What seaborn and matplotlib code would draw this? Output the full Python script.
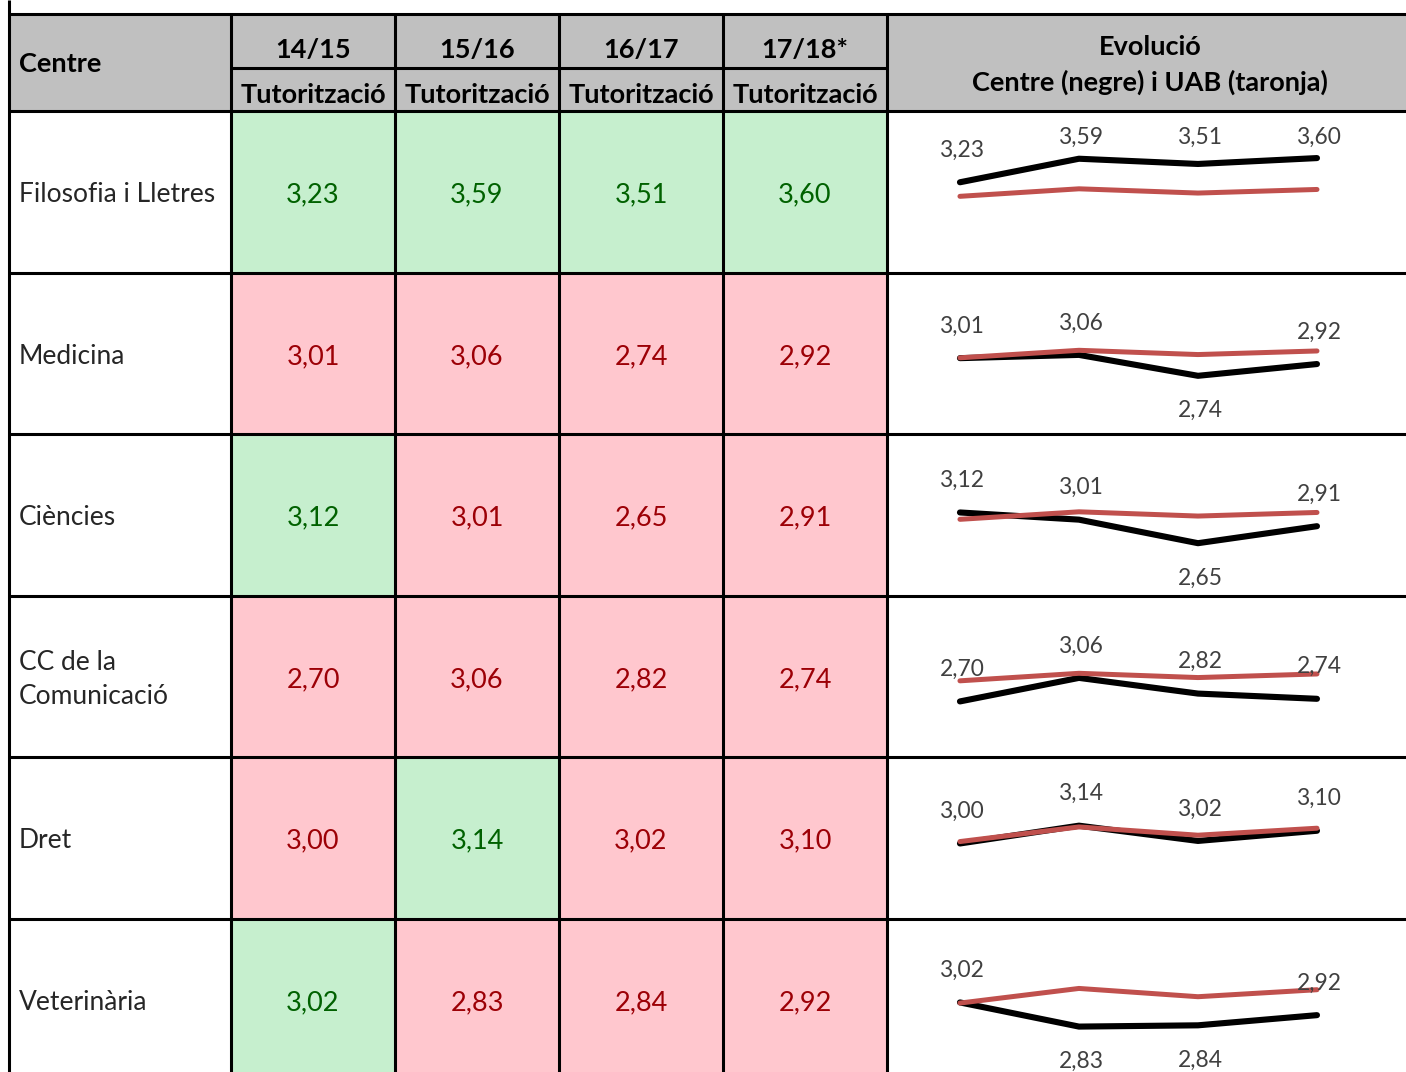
import numpy as np
import pandas as pd
import matplotlib
matplotlib.use("Agg")
import matplotlib.pyplot as plt
import seaborn as sns
from matplotlib.colors import ListedColormap
from matplotlib.patches import Rectangle

# Data
centres = ["Filosofia i Lletres", "Medicina", "Ciències", "CC de la\nComunicació", "Dret", "Veterinària"]
years = ["14/15", "15/16", "16/17", "17/18*"]
filosofia = [3.23, 3.59, 3.51, 3.60]
medicina = [3.01, 3.06, 2.74, 2.92]
ciencies = [3.12, 3.01, 2.65, 2.91]
comunicacio = [2.70, 3.06, 2.82, 2.74]
dret = [3.00, 3.14, 3.02, 3.10]
veterinaria = [3.02, 2.83, 2.84, 2.92]
uab = [3.015, 3.13, 3.065, 3.12]

values = np.array([filosofia, medicina, ciencies, comunicacio, dret, veterinaria])
above = (values > np.array(uab)).astype(int)

# where the sparkline label goes (1 above, -1 below)
label_side = [[1, 1, 1, 1], [1, 1, -1, 1], [1, 1, -1, 1], [1, 1, 1, 1], [1, 1, 1, 1], [1, -1, -1, 1]]
spark_ylim = [(1.85, 4.32)] * 4 + [(2.41, 3.68)] * 2

def fmt(v):
    return f"{v:.2f}".replace(".", ",")

sns.set_style("white")
plt.rcParams["font.family"] = ["Lato", "DejaVu Sans"]

W, H = 1406, 1072
fig = plt.figure(figsize=(W / 100, H / 100), dpi=100)

def px_axes(x0, y0, x1, y1):
    return fig.add_axes([x0 / W, 1 - y1 / H, (x1 - x0) / W, (y1 - y0) / H])

col_x = [9, 231, 395, 559, 723, 887, 1413]
row_h = 161.5
row_y = [111 + i * row_h for i in range(7)]

# background: header fill and texts
bg = px_axes(0, 0, W, H)
bg.set_xlim(0, W)
bg.set_ylim(H, 0)
bg.axis("off")
bg.add_patch(Rectangle((9, 14), W, 97, color="#C0C0C0", zorder=0))

hdr = dict(fontsize=19.5, fontweight="bold", color="black", va="center")
bg.text(19, 64, "Centre", ha="left", **hdr)
for i, y in enumerate(years):
    cx = (col_x[i + 1] + col_x[i + 2]) / 2
    bg.text(cx, 50, y, ha="center", **hdr)
    bg.text(cx, 95, "Tutorització", ha="center", **hdr)
bg.text(1150, 47, "Evolució", ha="center", **hdr)
bg.text(1150, 82, "Centre (negre) i UAB (taronja)", ha="center", **hdr)

for i, name in enumerate(centres):
    cy = (row_y[i] + row_y[i + 1]) / 2 + 3
    bg.text(19, cy, name, ha="left", va="center", fontsize=19, linespacing=1.45)

# coloured value cells
hm = px_axes(col_x[1], row_y[0], col_x[5], row_y[6])
sns.heatmap(above, ax=hm, cmap=ListedColormap(["#FFC7CE", "#C6EFCE"]), vmin=0, vmax=1,
            cbar=False, linewidths=0, xticklabels=False, yticklabels=False)
for i in range(values.shape[0]):
    for j in range(values.shape[1]):
        c = "#006100" if above[i, j] else "#9C0006"
        hm.text(j + 0.5, i + 0.52, fmt(values[i, j]), ha="center", va="center", fontsize=19.5, color=c)

# sparklines
for i in range(values.shape[0]):
    ax = px_axes(887, row_y[i], 1406, row_y[i + 1])
    ax.patch.set_visible(False)
    df = pd.DataFrame({"x": range(4), "centre": values[i], "uab": uab})
    sns.lineplot(data=df, x="x", y="centre", ax=ax, color="black", linewidth=4.4, solid_capstyle="round")
    sns.lineplot(data=df, x="x", y="uab", ax=ax, color="#C0504D", linewidth=3.6, solid_capstyle="round")
    ax.set_xlim(-0.613, 3.748)
    ax.set_ylim(*spark_ylim[i])
    ax.axis("off")
    for j, v in enumerate(values[i]):
        frac = ax.transLimits.transform((j, v))[1]
        if label_side[i][j] > 0:
            fy = min(frac + 32 / row_h, 1 - 26 / row_h)
        else:
            fy = frac - 35 / row_h
        ax.text(j + 0.02, fy, fmt(v), transform=ax.get_xaxis_transform(), ha="center", va="center",
                fontsize=16.4, color="#404040")

# borders on top
top = px_axes(0, 0, W, H)
top.patch.set_visible(False)
top.set_xlim(0, W)
top.set_ylim(H, 0)
top.axis("off")
lw = 2.2
top.vlines(9, 0, H, color="black", lw=lw)
top.hlines(14, 9, W, color="black", lw=lw)
for y in row_y[:6]:
    top.hlines(y, 9, W, color="black", lw=lw)
top.hlines(68, col_x[1], col_x[5], color="black", lw=lw)
for x in col_x[1:6]:
    top.vlines(x, 14, H, color="black", lw=lw)

fig.savefig("out.png", dpi=100)
